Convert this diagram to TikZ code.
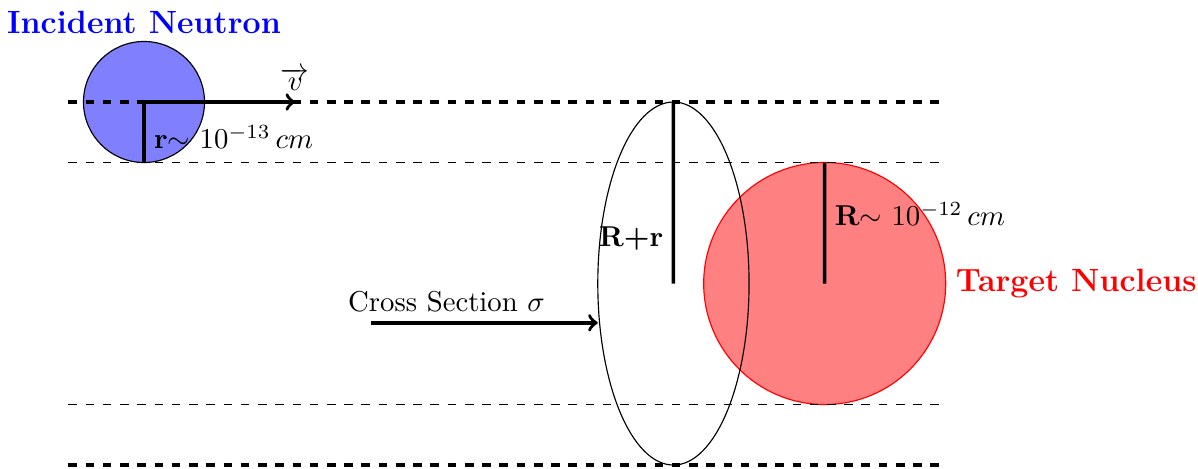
\documentclass[tikz,border=0pt]{standalone}
\usepackage{amsmath, amssymb}
\usepackage{xcolor}
\usepackage{tikz}
\definecolor{neutB}{RGB}{0,0,255}
\definecolor{nuclR}{RGB}{255,0,0}
\tikzset{guide/.style={dashed, thin},
  guidebold/.style={dashed, very thick},
  radius line/.style={very thick},
  big label/.style={font=\fontsize{11.2}{13}\selectfont\bfseries}}

\begin{document}
\begin{tikzpicture}[scale=0.74]
  \useasboundingbox (-2.38,1.686) rectangle (17.42,-6.05);
  \coordinate (n) at (0,0);
  \coordinate (N) at (11.25,-3);
  \coordinate (E) at (8.75,-3);
  % neutron and nucleus
  \fill[neutB!50] (n) circle (1);
  \draw (n) circle (1);
  \fill[nuclR!50] (N) circle (2);
  \draw[nuclR] (N) circle (2);
  \draw (E) ellipse (1.25 and 3);
  % guide lines
  \draw[guidebold] (-1.25,0) -- (13.25,0);
  \draw[guide] (-1.25,-1) -- (13.25,-1);
  \draw[guide] (-1.25,-5) -- (13.25,-5);
  \draw[guidebold] (-1.25,-6) -- (13.25,-6);
  % radii
  \draw[radius line] (n) -- (0,-1);
  \draw[radius line] (8.75,0) -- (E);
  \draw[radius line] (11.25,-1) -- (N);
  \draw[->, very thick] (n) -- (2.5,0) node[above] (v) {$\overrightarrow{v}$};
  \draw[->, very thick] (3.75,-3.65) -- (7.5,-3.65);
  \node[right] (rn) at (0,-0.58) {\textbf{r}$\sim$ $10^{-13}\,cm$};
  \node[left] (rr) at (8.75,-2.25) {\textbf{R+r}};
  \node[right] (rN) at (11.25,-1.85) {\textbf{R}$\sim$ $10^{-12}\,cm$};
  \node (cs) at (5,-3.3) {Cross Section $\sigma$};
  \node[neutB, big label] (inc) at (0,1.32) {Incident Neutron};
  \node[nuclR, big label, right] (tgt) at (13.25,-3) {Target Nucleus};
\end{tikzpicture}
\end{document}
